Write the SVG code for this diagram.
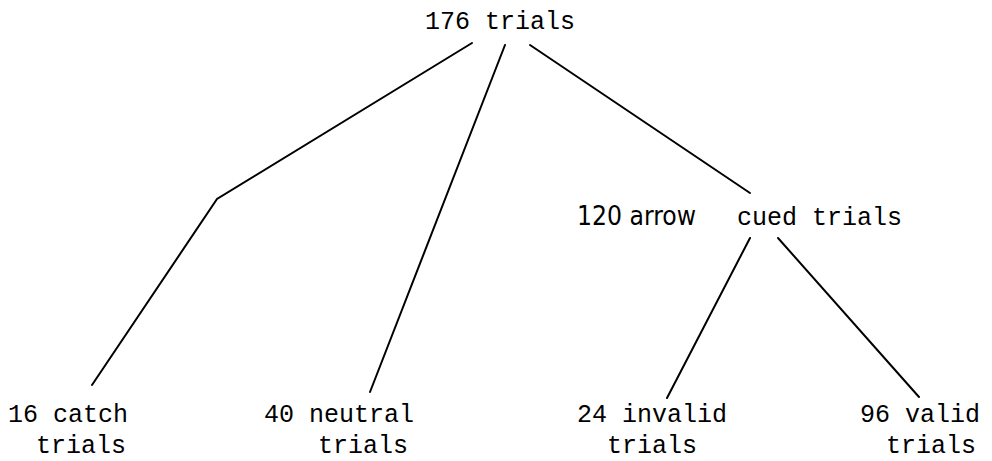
<svg xmlns="http://www.w3.org/2000/svg" width="992" height="461" viewBox="0 0 992 461">
<style>
.t{font-family:"Liberation Mono","DejaVu Sans Mono",monospace;font-size:25px;fill:#000}
.s{font-family:"DejaVu Sans","Liberation Sans",sans-serif;font-size:26px;fill:#000}
.c line,.c polyline{stroke:#000;stroke-width:2;fill:none;stroke-linecap:round}
</style>
<rect width="992" height="461" fill="#fff"/>
<g class="c" id="connectors">
<polyline points="472,43 217,199 92,385"/>
<line x1="505" y1="45" x2="370" y2="392"/>
<line x1="530" y1="45" x2="750" y2="193"/>
<line x1="750" y1="238" x2="667" y2="398"/>
<line x1="778" y1="238" x2="919" y2="397"/>
</g>
<g id="root"><text class="t" x="425" y="29">176 trials</text></g>
<g id="arrow"><text class="s" x="577" y="225" textLength="119" lengthAdjust="spacingAndGlyphs">120 arrow</text><text class="t" x="737" y="225">cued trials</text></g>
<g id="catch"><text class="t" x="8" y="422">16 catch</text><text class="t" x="36" y="453">trials</text></g>
<g id="neutral"><text class="t" x="264" y="422">40 neutral</text><text class="t" x="318" y="453">trials</text></g>
<g id="invalid"><text class="t" x="577" y="422">24 invalid</text><text class="t" x="607" y="453">trials</text></g>
<g id="valid"><text class="t" x="860" y="422">96 valid</text><text class="t" x="886" y="453">trials</text></g>
</svg>
